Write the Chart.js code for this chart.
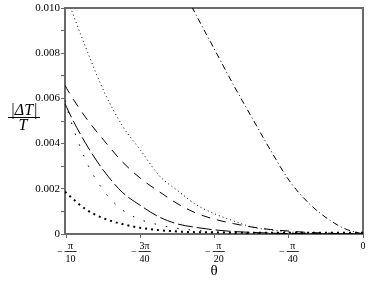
<!DOCTYPE html>
<html><head><meta charset="utf-8">
<script src="https://cdn.jsdelivr.net/npm/chart.js@4.4.1/dist/chart.umd.min.js"></script>
<style>html,body{margin:0;padding:0;background:#fff;}canvas{display:block;}</style>
</head><body>
<canvas id="c" width="368" height="283"></canvas>
<script>
// theta values (radians)
const thetas = [-0.3160, -0.3142, -0.2945, -0.2749, -0.2553, -0.2356, -0.2160, -0.1963, -0.1767, -0.1571, -0.1374, -0.1178, -0.0982, -0.0785, -0.0589, -0.0393, -0.0196, 0];
// series |ΔT|/T
const fineDotted   = [0.01071, 0.01049, 0.00831, 0.00633, 0.00480, 0.00369, 0.00258, 0.00191, 0.00129, 0.00089, 0.00058, 0.00031, 0.00018, 0.00009, 0.00004, 0.00002, 0.00001, 0];
const dashDot      = [null, null, null, null, null, 0.01471, 0.01293, 0.01124, 0.00967, 0.00814, 0.00660, 0.00515, 0.00372, 0.00238, 0.00142, 0.00073, 0.00024, 0];
const dashed       = [0.00658, 0.00644, 0.00518, 0.00415, 0.00320, 0.00245, 0.00187, 0.00133, 0.00092, 0.00065, 0.00046, 0.00031, 0.00020, 0.00013, 0.00007, 0.00004, 0.00001, 0];
const longDashed   = [0.00578, 0.00560, 0.00404, 0.00280, 0.00185, 0.00125, 0.00075, 0.00044, 0.00029, 0.00018, 0.00011, 0.00007, 0.00004, 0.00002, 0.00001, 0, 0, 0];
const sparseDotted = [0.00591, 0.00561, 0.00331, 0.00191, 0.00107, 0.00063, 0.00040, 0.00024, 0.00016, 0.00009, 0.00004, 0.00002, 0.00001, 0, 0, 0, 0, 0];
const boldDotted   = [0.00187, 0.00180, 0.00111, 0.00069, 0.00044, 0.00027, 0.00017, 0.00011, 0.00008, 0.00007, 0.00006, 0.00006, 0.00006, 0.00006, 0.00006, 0.00006, 0.00006, 0.00006];
// ticks
const xTickValues = [-Math.PI/10, -3*Math.PI/40, -Math.PI/20, -Math.PI/40, 0];
const xTickNum = ['π', '3π', 'π', 'π', '0'];
const xTickDen = ['10', '40', '20', '40', ''];
const yTickValues = [0, 0.001, 0.002, 0.003, 0.004, 0.005, 0.006, 0.007, 0.008, 0.009, 0.010];
const yTickLabels = ['0', '', '0.002', '', '0.004', '', '0.006', '', '0.008', '', '0.010'];

const SERIF = '"Liberation Serif", "DejaVu Serif", serif';

function mk(data, dash, width) {
  return {
    data: thetas.map((t, i) => ({x: t, y: data[i]})),
    borderColor: '#000', borderWidth: width || 1, borderDash: dash,
    borderCapStyle: 'butt', pointRadius: 0, fill: false,
    cubicInterpolationMode: 'monotone', spanGaps: false
  };
}

const decor = {
  id: 'decor',
  beforeDatasetsDraw(chart) {
    const ctx = chart.ctx, a = chart.chartArea;
    ctx.save();
    ctx.strokeStyle = '#6a6a6a'; ctx.lineWidth = 2;
    ctx.strokeRect(a.left, a.top, a.right - a.left, a.bottom - a.top);
    ctx.restore();
  },
  afterDraw(chart) {
    const ctx = chart.ctx, xs = chart.scales.x;
    ctx.save();
    ctx.fillStyle = '#000'; ctx.strokeStyle = '#000';
    // x tick labels as fractions
    ctx.font = '10px ' + SERIF;
    ctx.textBaseline = 'alphabetic';
    xTickValues.forEach((v, i) => {
      const px = xs.getPixelForValue(v);
      if (!xTickDen[i]) {
        ctx.textAlign = 'center';
        ctx.fillText(xTickNum[i], px, 249);
        return;
      }
      const wn = ctx.measureText(xTickNum[i]).width, wd = ctx.measureText(xTickDen[i]).width;
      const w = Math.max(wn, wd) + 2;
      const wm = ctx.measureText('−').width;
      const total = wm + 2 + w;
      const sx = px - total / 2;
      ctx.textAlign = 'left';
      ctx.fillText('−', sx, 255);
      const fx = sx + wm + 2;
      ctx.lineWidth = 0.8;
      ctx.beginPath(); ctx.moveTo(fx, 251.5); ctx.lineTo(fx + w, 251.5); ctx.stroke();
      ctx.textAlign = 'center';
      ctx.fillText(xTickNum[i], fx + w / 2, 249);
      ctx.fillText(xTickDen[i], fx + w / 2, 262);
    });
    // axis titles
    ctx.textAlign = 'center';
    ctx.font = '15px ' + SERIF;
    ctx.fillText('θ', 214, 275);
    ctx.font = 'italic 16px ' + SERIF;
    ctx.fillText('|ΔT|', 24, 115);
    ctx.fillText('T', 23, 130);
    ctx.lineWidth = 1;
    ctx.beginPath(); ctx.moveTo(8, 117.5); ctx.lineTo(40, 117.5); ctx.stroke();
    ctx.restore();
  }
};

new Chart(document.getElementById('c'), {
  type: 'line',
  data: {
    datasets: [
      mk(fineDotted, [1, 3]),
      mk(dashDot, [6, 3, 1, 3]),
      mk(dashed, [9, 7]),
      mk(longDashed, [15, 4]),
      mk(sparseDotted, [1.5, 10]),
      mk(boldDotted, [2, 4], 2)
    ]
  },
  options: {
    responsive: false, animation: false, devicePixelRatio: 1,
    layout: {padding: {top: 8, right: 5, left: 0, bottom: 0}},
    plugins: {legend: {display: false}, tooltip: {enabled: false}},
    scales: {
      x: {
        type: 'linear', min: -0.316, max: 0,
        afterBuildTicks: s => { s.ticks = xTickValues.map(v => ({value: v})); },
        afterFit: s => { s.height = 49; },
        ticks: {display: false},
        grid: {display: true, drawOnChartArea: false, drawTicks: true, tickLength: 4, color: '#666'},
        border: {display: false}
      },
      y: {
        type: 'linear', min: 0, max: 0.010,
        afterBuildTicks: s => { s.ticks = yTickValues.map(v => ({value: v})); },
        afterFit: s => { s.width = 65; },
        ticks: {
          color: '#000', padding: 1, autoSkip: false,
          font: {family: SERIF, size: 11},
          callback: (v, i) => yTickLabels[i]
        },
        grid: {display: true, drawOnChartArea: false, drawTicks: true, tickLength: 4, color: '#666'},
        border: {display: false}
      }
    }
  },
  plugins: [decor]
});
</script>
</body></html>
